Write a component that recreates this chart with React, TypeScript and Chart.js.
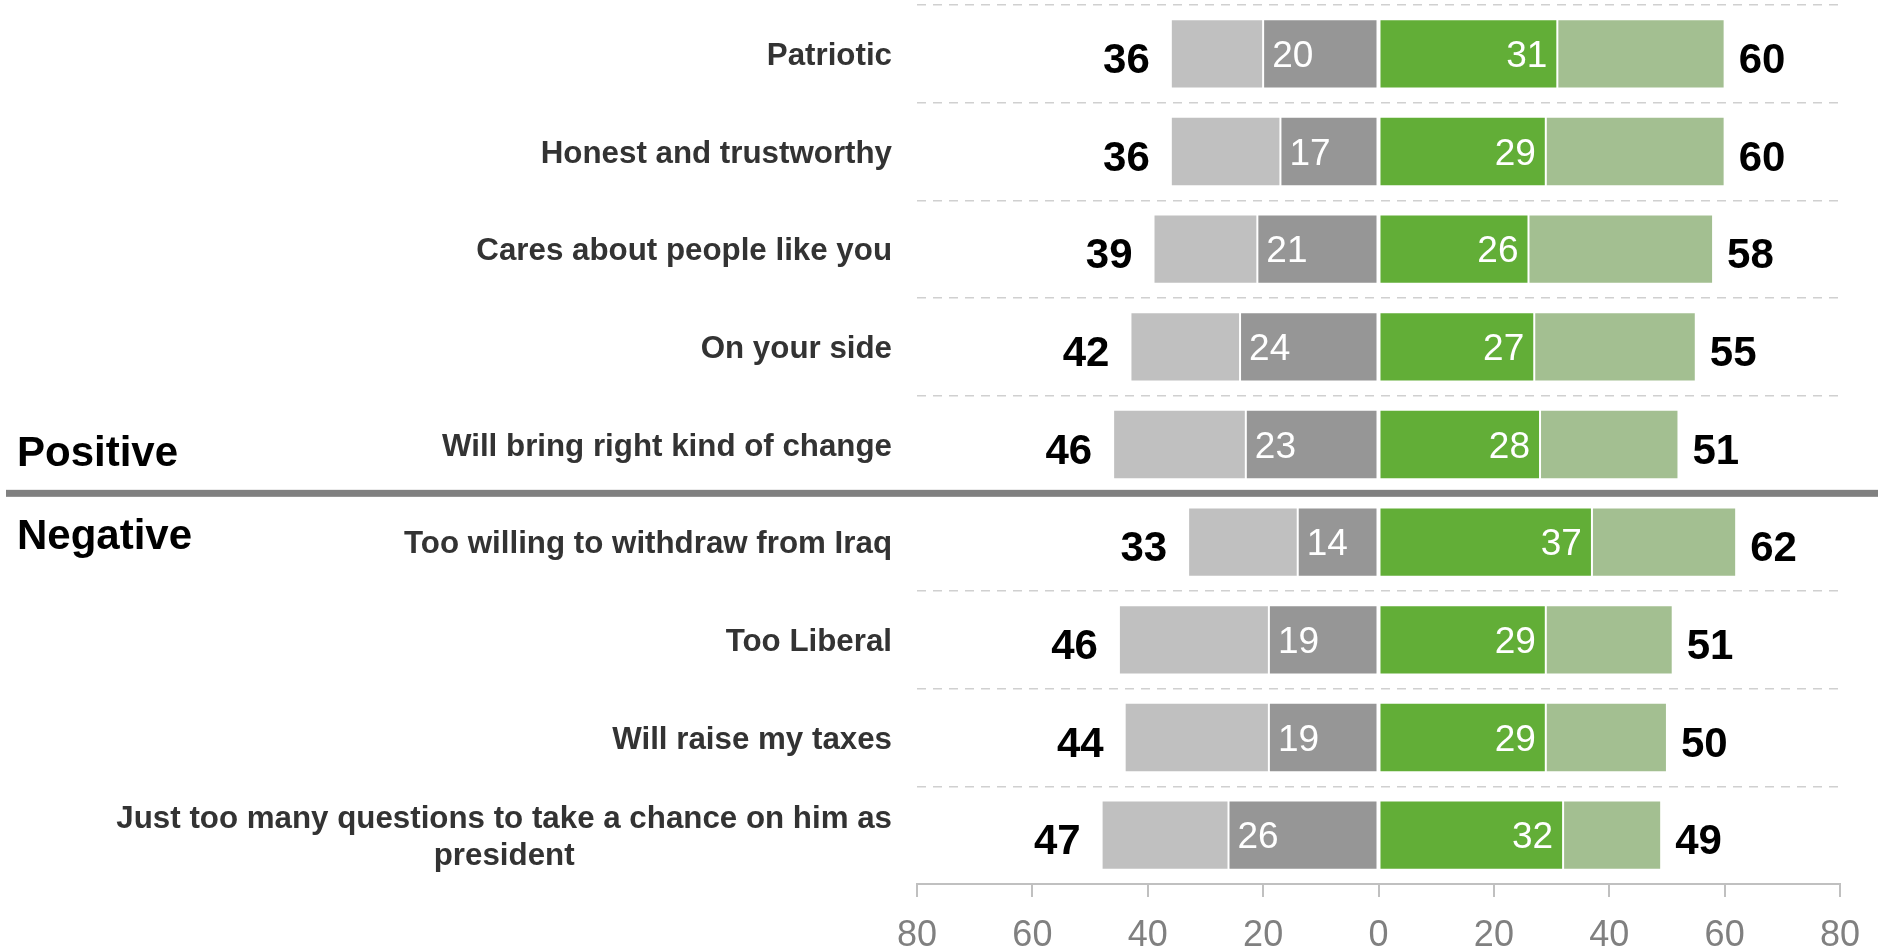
import React, { useEffect, useRef } from "react";
import { Chart, registerables } from "chart.js";

Chart.register(...registerables);

const FONT = '"Liberation Sans", Arial, Helvetica, sans-serif';

const categories: string[][] = [
  ["Patriotic"],
  ["Honest and trustworthy"],
  ["Cares about people like you"],
  ["On your side"],
  ["Will bring right kind of change"],
  ["Too willing to withdraw from Iraq"],
  ["Too Liberal"],
  ["Will raise my taxes"],
  ["Just too many questions to take a chance on him as", "president"],
];
const groupLabels = ["Positive", "Negative"];
const darkGray = [20, 17, 21, 24, 23, 14, 19, 19, 26];
const lightGray = [16, 19, 18, 19, 23, 19, 26, 25, 22];
const green = [31, 29, 26, 27, 28, 37, 29, 29, 32];
const lightGreen = [29, 31, 32, 28, 24, 25, 22, 21, 17];
const leftTotals = [36, 36, 39, 42, 46, 33, 46, 44, 47];
const rightTotals = [60, 60, 58, 55, 51, 62, 51, 50, 49];
const xMin = -80;
const xMax = 80;
const xStep = 20;
const splitAfterIndex = 4;

const labelPlugin = {
  id: "customLabels",
  afterDraw(chart: any) {
    const ctx = chart.ctx as CanvasRenderingContext2D;
    const y = chart.scales.y;
    const area = chart.chartArea;
    ctx.save();

    // segment value labels
    const mDark = chart.getDatasetMeta(0);
    const mLight = chart.getDatasetMeta(1);
    const mGreen = chart.getDatasetMeta(2);
    const mLGreen = chart.getDatasetMeta(3);
    ctx.font = `37px ${FONT}`;
    ctx.fillStyle = "#ffffff";
    ctx.textBaseline = "alphabetic";
    mDark.data.forEach((el: any, i: number) => {
      ctx.textAlign = "left";
      ctx.fillText(String(darkGray[i]), Math.min(el.x, el.base) + 9, el.y + 13);
    });
    mGreen.data.forEach((el: any, i: number) => {
      ctx.textAlign = "right";
      ctx.fillText(String(green[i]), Math.max(el.x, el.base) - 10, el.y + 13);
    });

    // totals
    ctx.font = `bold 42px ${FONT}`;
    ctx.fillStyle = "#000000";
    mLight.data.forEach((el: any, i: number) => {
      ctx.textAlign = "right";
      ctx.fillText(String(leftTotals[i]), Math.min(el.x, el.base) - 21, el.y + 19);
    });
    mLGreen.data.forEach((el: any, i: number) => {
      ctx.textAlign = "left";
      ctx.fillText(String(rightTotals[i]), Math.max(el.x, el.base) + 14, el.y + 19);
    });

    // category labels
    ctx.font = `bold 31.3px ${FONT}`;
    ctx.fillStyle = "#333333";
    const rightX = area.left - 25;
    categories.forEach((lines, i) => {
      const cy = y.getPixelForValue(i);
      if (lines.length === 1) {
        ctx.textAlign = "right";
        ctx.fillText(lines[0], rightX, cy + 11);
      } else {
        const maxW = Math.max(...lines.map((l) => ctx.measureText(l).width));
        const cx = rightX - maxW / 2;
        ctx.textAlign = "center";
        lines.forEach((l, j) => {
          ctx.fillText(l, cx, cy + 11 + (j - (lines.length - 1) / 2) * 37);
        });
      }
    });

    // separator
    const sepY = (y.getPixelForValue(splitAfterIndex) + y.getPixelForValue(splitAfterIndex + 1)) / 2;
    ctx.fillStyle = "#808080";
    ctx.fillRect(6, sepY - 3.5, chart.width - 6, 7);

    // group labels
    ctx.font = `bold 42px ${FONT}`;
    ctx.fillStyle = "#000000";
    ctx.textAlign = "left";
    ctx.fillText(groupLabels[0], 17, sepY - 27);
    ctx.fillText(groupLabels[1], 17, sepY + 56);

    ctx.restore();
  },
};

export default function App() {
  const ref = useRef<HTMLCanvasElement | null>(null);

  useEffect(() => {
    if (!ref.current) return;
    const common = {
      borderColor: "#ffffff",
      borderWidth: 1,
      borderSkipped: false,
      barPercentage: 0.71,
      categoryPercentage: 1,
    };
    const chart = new Chart(ref.current, {
      type: "bar",
      data: {
        labels: categories.map((c) => c.join(" ")),
        datasets: [
          { ...common, label: "dark", data: darkGray.map((v) => -v), backgroundColor: "#969696" },
          { ...common, label: "light", data: lightGray.map((v) => -v), backgroundColor: "#c0c0c0" },
          { ...common, label: "green", data: green, backgroundColor: "#62ae37" },
          { ...common, label: "lightgreen", data: lightGreen, backgroundColor: "#a3bf91" },
        ] as any,
      },
      options: {
        indexAxis: "y",
        responsive: false,
        animation: false,
        layout: { padding: { top: 5, right: 38, left: 0, bottom: 0 } },
        plugins: { legend: { display: false }, tooltip: { enabled: false } },
        scales: {
          x: {
            stacked: true,
            min: xMin,
            max: xMax,
            ticks: {
              stepSize: xStep,
              callback: (v: any) => String(Math.abs(Number(v))),
              font: { size: 36, family: FONT },
              color: "#808080",
              padding: 17,
              maxRotation: 0,
            },
            grid: {
              drawOnChartArea: false,
              drawTicks: true,
              tickLength: 13,
              color: "#c0c0c0",
              lineWidth: 2,
            },
            border: { display: true, color: "#c0c0c0", width: 2 },
            afterFit: (s: any) => {
              s.height = 67;
            },
          },
          y: {
            stacked: true,
            ticks: { display: false },
            grid: { color: "#d0d0d0", lineWidth: 1.5, drawTicks: false, offset: true },
            border: { display: false, dash: [9, 7] },
            afterFit: (s: any) => {
              s.width = 917;
            },
          },
        },
      } as any,
      plugins: [labelPlugin],
    });
    return () => chart.destroy();
  }, []);

  return (
    <div style={{ position: "fixed", left: 0, top: 0, width: 1878, height: 951, background: "#fff" }}>
      <canvas ref={ref} width={1878} height={951} style={{ width: 1878, height: 951, display: "block" }} />
    </div>
  );
}
